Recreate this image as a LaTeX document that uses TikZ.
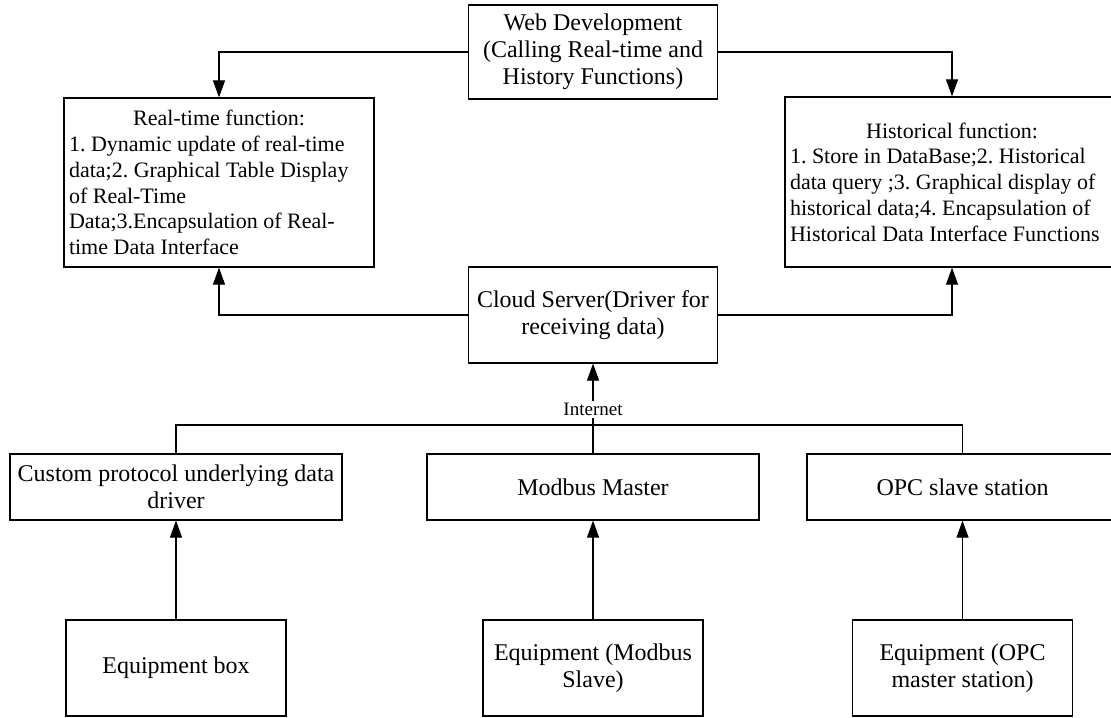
\documentclass[tikz,border=0pt]{standalone}
\usepackage{fontspec}
\setmainfont{Liberation Serif}
\usetikzlibrary{arrows.meta,positioning}
\frenchspacing
\newcommand{\mainsize}{\fontsize{12}{13.4}\selectfont}
\newcommand{\infosize}{\fontsize{11}{12.9}\selectfont}
\tikzset{
  box/.style={
    rectangle, draw, line width=0.6pt,
    minimum width=#1, minimum height=33pt,
    align=center, font=\mainsize,
    inner sep=2pt},
  box/.default=166pt,
  infobox/.style={
    rectangle, draw, line width=0.6pt,
    text width=#1, minimum height=85pt,
    align=flush left, font=\infosize,
    inner sep=2.5pt},
  netlabel/.style={fill=white, inner sep=1pt, font=\fontsize{9.5}{10}\selectfont},
  myarrow/.style={-{Triangle[length=8.5pt,width=6pt]}, line width=0.6pt},
  myline/.style={line width=0.6pt},
}

\begin{document}
\begin{tikzpicture}[x=0.5pt, y=-0.5pt]
  \useasboundingbox (0,0) rectangle (1111,717);
  % application layer
  \node[box=124.5pt, minimum height=47pt] (web) at (593,52) {Web Development\\(Calling Real-time and\\History Functions)};
  \node[infobox=150pt, minimum height=84.5pt] (rt) at (219,182.5) {\hfill Real-time function:\hfill\null\\1. Dynamic update of real-time\\data;2. Graphical Table Display\\of Real-Time\\Data;3.Encapsulation of Real-\\time Data Interface};
  \node[infobox=162pt] (hist) at (952,182) {\hfill Historical function:\hfill\null\\1. Store in DataBase;2. Historical\\data query ;3. Graphical display of\\historical data;4. Encapsulation of\\Historical Data Interface Functions};
  \node[box=124.5pt, minimum height=48pt] (cloud) at (593,315) {Cloud Server(Driver for\\receiving data)};
  % drivers
  \node[box] (custom) at (176,487) {Custom protocol underlying data\\driver};
  \node[box] (modm) at (593,487) {Modbus Master};
  \node[box=155.5pt] (opcs) at (962.5,487) {OPC slave station};
  % field devices
  \node[box=110pt, minimum height=48pt] (eqbox) at (176,668) {Equipment box};
  \node[box=110pt, minimum height=48pt] (eqmod) at (593,668) {Equipment (Modbus\\Slave)};
  \node[box=110pt, minimum height=48pt] (eqopc) at (962.5,668) {Equipment (OPC\\master station)};
  \coordinate (bus) at (593,425);

  \draw[myarrow] (web.west) -| (rt.north);
  \draw[myarrow] (web.east) -| (hist.north);
  \draw[myarrow] (cloud.west) -| (rt.south);
  \draw[myarrow] (cloud.east) -| (hist.south);
  \draw[myarrow] (bus) -- node[netlabel, pos=0.25] (net) {Internet} (cloud.south);
  \draw[myline] (custom.north) |- (bus) -| (opcs.north);
  \draw[myline] (modm.north) -- (bus);
  \foreach \from/\to in {eqbox/custom, eqmod/modm, eqopc/opcs}
    \draw[myarrow] (\from) -- (\to);
\end{tikzpicture}
\end{document}
